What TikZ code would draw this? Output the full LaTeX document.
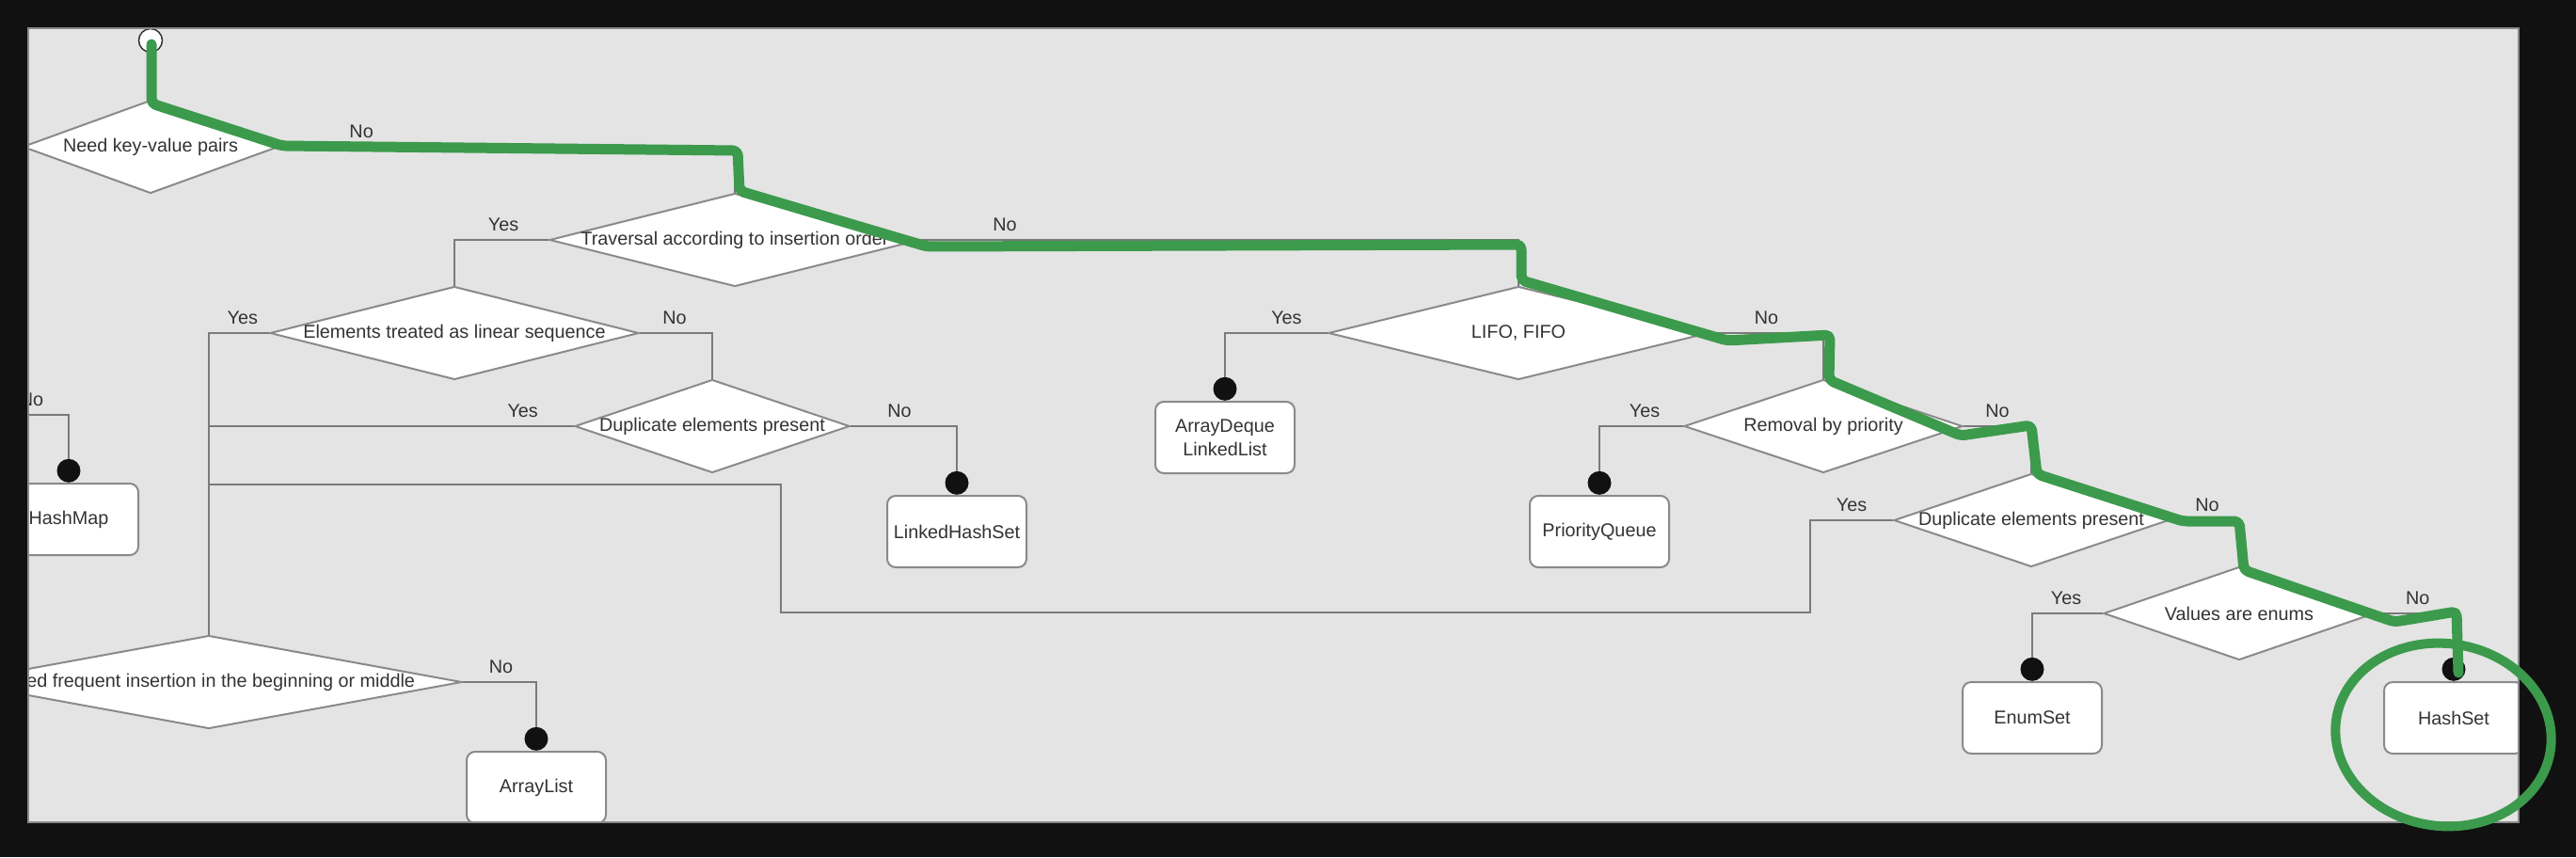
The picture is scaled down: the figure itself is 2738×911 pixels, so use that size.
\documentclass[tikz,border=0pt]{standalone}
\usepackage{fontspec}
\setmainfont{Liberation Sans}
\usetikzlibrary{shapes.geometric,positioning}
\definecolor{frame}{HTML}{111111}
\definecolor{panel}{HTML}{E4E4E4}
\definecolor{wiregray}{HTML}{7A7A7A}
\definecolor{edgegray}{HTML}{8A8A8A}
\definecolor{txtgray}{HTML}{333333}
\definecolor{marker}{HTML}{3C9A4C}
\newcommand{\cond}[1]{\makebox[0pt]{#1}}
\tikzset{
  every node/.style={font=\fontsize{19.8}{25}\selectfont, text=txtgray},
  decision/.style={diamond, draw=edgegray, fill=white, line width=2pt, inner sep=0pt, minimum width=#1, minimum height=99pt},
  result/.style={rectangle, rounded corners=9pt, draw=edgegray, fill=white, line width=2pt, minimum width=148pt, minimum height=76pt, align=center},
  dot/.style={circle, fill=frame, inner sep=0pt, minimum size=25pt},
  wire/.style={draw=wiregray, line width=2pt},
  lbl/.style={above, inner sep=9pt, text depth=0pt},
}
\begin{document}
\begin{tikzpicture}[x=1pt,y=-1pt]
\fill[frame] (0,0) rectangle (2738,911);
\useasboundingbox (0,0) rectangle (2738,911);
\fill[panel] (30,30) rectangle (2677,874);
\begin{scope}
\clip (30,30) rectangle (2677,874);
% questions
\node[circle, draw=txtgray, fill=white, line width=1.5pt, minimum size=25pt, inner sep=0pt] (start) at (160,43) {};
\node[decision=272pt] (kv) at (160,156) {\cond{Need key-value pairs}};
\node[decision=394pt] (trav) at (781,255) {\cond{Traversal according to insertion order}};
\node[decision=392pt] (lin) at (483,354) {\cond{Elements treated as linear sequence}};
\node[decision=292pt] (dupL) at (757,453) {\cond{Duplicate elements present}};
\node[decision=538pt] (freq) at (222,725) {\cond{Need frequent insertion in the beginning or middle}};
\node[decision=404pt] (lifo) at (1614,354) {\cond{LIFO, FIFO}};
\node[decision=296pt] (prio) at (1938,453) {\cond{Removal by priority}};
\node[decision=292pt] (dupR) at (2159,553) {\cond{Duplicate elements present}};
\node[decision=288pt] (enums) at (2380,652) {\cond{Values are enums}};
% collections
\node[result] (hmap) at (73,552) {HashMap};
\node[result] (lhs) at (1017,565) {LinkedHashSet};
\node[result] (alist) at (570,837) {ArrayList};
\node[result] (deque) at (1302,465) {ArrayDeque\\LinkedList};
\node[result] (pq) at (1700,565) {PriorityQueue};
\node[result] (eset) at (2160,763) {EnumSet};
\node[result] (hset) at (2608,763) {HashSet};
\foreach \b in {hmap,lhs,alist,deque,pq,eset,hset}
  \node[dot, above=0pt of \b] (\b dot) {};
% connectors
\coordinate (offl) at (0,441);
\coordinate (j1) at (830,651);
\coordinate (j2) at (830,515);
\draw[wire] (start) -- (kv.north);
\draw[wire] (kv.east) -| node[lbl, pos=0.09] {No} (trav.north);
\draw[wire] (trav.west) -| node[lbl, pos=0.24] {Yes} (lin.north);
\draw[wire] (trav.east) -| node[lbl, pos=0.07] {No} (lifo.north);
\draw[wire] (lin.west) -| node[lbl, pos=0.22] {Yes} (freq.north);
\draw[wire] (lin.east) -| node[lbl, pos=0.24] {No} (dupL.north);
\draw[wire] (dupL.west) -- node[lbl, pos=0.14] {Yes} (dupL.west -| freq.north);
\draw[wire] (dupL.east) -| node[lbl, pos=0.23] {No} (lhsdot.north);
\draw[wire] (freq.east) -| node[lbl, pos=0.26] {No} (alistdot.north);
\draw[wire] (offl) -| node[lbl, pos=0.23] {No} (hmapdot.north);
\draw[wire] (lifo.west) -| node[lbl, pos=0.2] {Yes} (dequedot.north);
\draw[wire] (lifo.east) -| node[lbl, pos=0.25] {No} (prio.north);
\draw[wire] (prio.west) -| node[lbl, pos=0.23] {Yes} (pqdot.north);
\draw[wire] (prio.east) -| node[lbl, pos=0.25] {No} (dupR.north);
\draw[wire] (dupR.west) -- node[lbl] {Yes} ++(-88,0) |- (j1) -- (j2) -- (j2 -| freq.north);
\draw[wire] (dupR.east) -| node[lbl, pos=0.27] {No} (enums.north);
\draw[wire] (enums.west) -| node[lbl, pos=0.26] {Yes} (esetdot.north);
\draw[wire] (enums.east) -| node[lbl, pos=0.27] {No} (hsetdot.north);
\end{scope}
\draw[edgegray, line width=1.5pt] (30,30) rectangle (2677,874);
% highlight
\draw[marker, line width=11pt, line cap=round, line join=round, rounded corners=5pt]
  (161,47) -- (161,110) -- (300,155) -- (784,160) -- (786,203) -- (985,262)
  -- (1617,260) -- (1617,298) -- (1836,362) -- (1945,356) -- (1944,404)
  -- (2084,463) -- (2159,452) -- (2165,504) -- (2320,554) -- (2380,554)
  -- (2385,606) -- (2545,661) -- (2611,650) -- (2613,715);
\draw[marker, line width=10pt, rotate around={-8:(2597,781)}] (2597,781) ellipse [x radius=115, y radius=97];
\end{tikzpicture}
\end{document}
